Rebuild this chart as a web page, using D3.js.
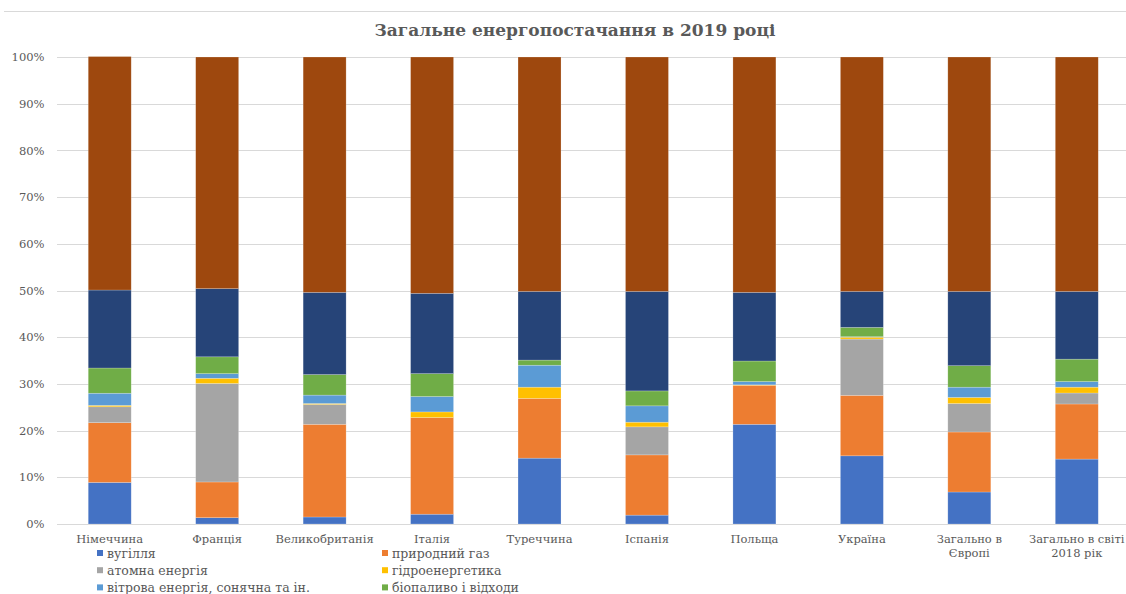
<!DOCTYPE html>
<html>
<head>
<meta charset="utf-8">
<script src="https://cdn.jsdelivr.net/npm/d3@7"></script>
<style>
  html, body { margin: 0; padding: 0; background: #fff; }
  svg { display: block; font-family: "DejaVu Serif", "Liberation Serif", serif; }
</style>
</head>
<body>
<svg id="chart" width="1126" height="594"></svg>
<script>
// Countries / regions along the x axis (line breaks marked with "\n")
const categories = [
  "Німеччина", "Франція", "Великобританія", "Італія", "Туреччина",
  "Іспанія", "Польща", "Україна", "Загально в\nЄвропі", "Загально в світі\n2018 рік"
];

// Shares in percent, one array per energy source (bottom to top)
const coal    = [8.9, 1.35, 1.5, 2.1, 14.1, 1.9, 21.35, 14.6, 6.85, 13.9];
const gas     = [12.8, 7.65, 19.85, 20.7, 12.8, 12.9, 8.35, 12.95, 12.85, 11.8];
const nuclear = [3.4, 21.1, 4.25, 0, 0, 6.0, 0, 12.05, 6.1, 2.35];
const hydro   = [0.3, 1.1, 0.2, 1.2, 2.4, 1.0, 0.1, 0.4, 1.3, 1.25];
const wind    = [2.6, 1.0, 1.8, 3.3, 4.7, 3.5, 0.7, 0.1, 2.2, 1.2];
const biofuel = [5.4, 3.6, 4.4, 4.9, 1.1, 3.2, 4.4, 2.0, 4.6, 4.8];
const oil     = [16.7, 14.6, 17.6, 17.2, 14.7, 21.3, 14.7, 7.7, 15.9, 14.5];
const total   = [50.0, 49.6, 50.4, 50.6, 50.2, 50.2, 50.4, 50.2, 50.2, 50.2];

const seriesNames = [
  "вугілля", "природний газ", "атомна енергія", "гідроенергетика",
  "вітрова енергія, сонячна та ін.", "біопаливо і відходи", "нафта", "разом"
];
const seriesValues = [coal, gas, nuclear, hydro, wind, biofuel, oil, total];
const seriesColors = ["#4472C4", "#ED7D31", "#A5A5A5", "#FFC000", "#5B9BD5", "#70AD47", "#264478", "#9E480E"];
const legendCount = 6;

const yTicks = [0, 10, 20, 30, 40, 50, 60, 70, 80, 90, 100];

const svg = d3.select("#chart");
const textColor = "#595959";
const gridColor = "#d9d9d9";

// outer frame top edge
svg.append("line")
  .attr("x1", 4).attr("x2", 1126)
  .attr("y1", 11.5).attr("y2", 11.5)
  .attr("stroke", gridColor).attr("stroke-width", 1);

// title
svg.append("text")
  .attr("x", 575).attr("y", 36)
  .attr("text-anchor", "middle")
  .attr("font-size", 17).attr("font-weight", "bold")
  .attr("fill", textColor)
  .text("Загальне енергопостачання в 2019 році");

const x = d3.scaleBand()
  .domain(categories)
  .range([56, 1130.5])
  .paddingInner(0.6)
  .paddingOuter(0.3);

const y = d3.scaleLinear().domain([0, 100]).range([524, 57]);

// gridlines
svg.append("g")
  .selectAll("line")
  .data(yTicks)
  .join("line")
  .attr("x1", 57).attr("x2", 1126)
  .attr("y1", d => Math.round(y(d)) + 0.5)
  .attr("y2", d => Math.round(y(d)) + 0.5)
  .attr("stroke", gridColor).attr("stroke-width", 1);

// y axis labels
const yAxis = d3.axisLeft(y).tickValues(yTicks).tickFormat(d => d + "%").tickSize(0).tickPadding(0);
const yG = svg.append("g").attr("transform", "translate(44.5,0)").call(yAxis);
yG.select(".domain").remove();
yG.selectAll("text")
  .attr("font-family", "DejaVu Serif, serif")
  .attr("font-size", 11.5)
  .attr("fill", textColor);

// stacked data
const rows = categories.map((c, i) => {
  const r = { cat: c };
  seriesNames.forEach((s, j) => { r[s] = seriesValues[j][i]; });
  return r;
});
const stacked = d3.stack().keys(seriesNames)(rows);

svg.append("g")
  .selectAll("g")
  .data(stacked)
  .join("g")
  .attr("fill", (d, i) => seriesColors[i])
  .selectAll("rect")
  .data(d => d)
  .join("rect")
  .attr("x", d => x(d.data.cat))
  .attr("width", x.bandwidth())
  .attr("y", d => y(d[1]))
  .attr("height", d => Math.max(0, y(d[0]) - y(d[1])))
  .attr("stroke", "#ffffff")
  .attr("stroke-opacity", 0.35)
  .attr("stroke-width", 0.6);

// category labels
const labelG = svg.append("g");
categories.forEach(c => {
  const cx = x(c) + x.bandwidth() / 2;
  const t = labelG.append("text")
    .attr("x", cx)
    .attr("y", 543)
    .attr("text-anchor", "middle")
    .attr("font-size", 11.5)
    .attr("fill", textColor);
  c.split("\n").forEach((line, k) => {
    t.append("tspan")
      .attr("x", cx)
      .attr("dy", k === 0 ? 0 : 13.5)
      .text(line);
  });
});

// legend (two columns)
const legendItems = seriesNames.slice(0, legendCount).map((n, i) => ({ name: n, color: seriesColors[i], i }));
const legend = svg.append("g")
  .selectAll("g")
  .data(legendItems)
  .join("g")
  .attr("transform", d => `translate(${d.i % 2 === 0 ? 97 : 382},${554 + Math.floor(d.i / 2) * 17.2})`);
legend.append("rect")
  .attr("x", 0).attr("y", -4)
  .attr("width", 6).attr("height", 6)
  .attr("fill", d => d.color);
legend.append("text")
  .attr("x", 10).attr("y", 3.5)
  .attr("font-size", 12.5)
  .attr("fill", textColor)
  .text(d => d.name);
</script>
</body>
</html>
